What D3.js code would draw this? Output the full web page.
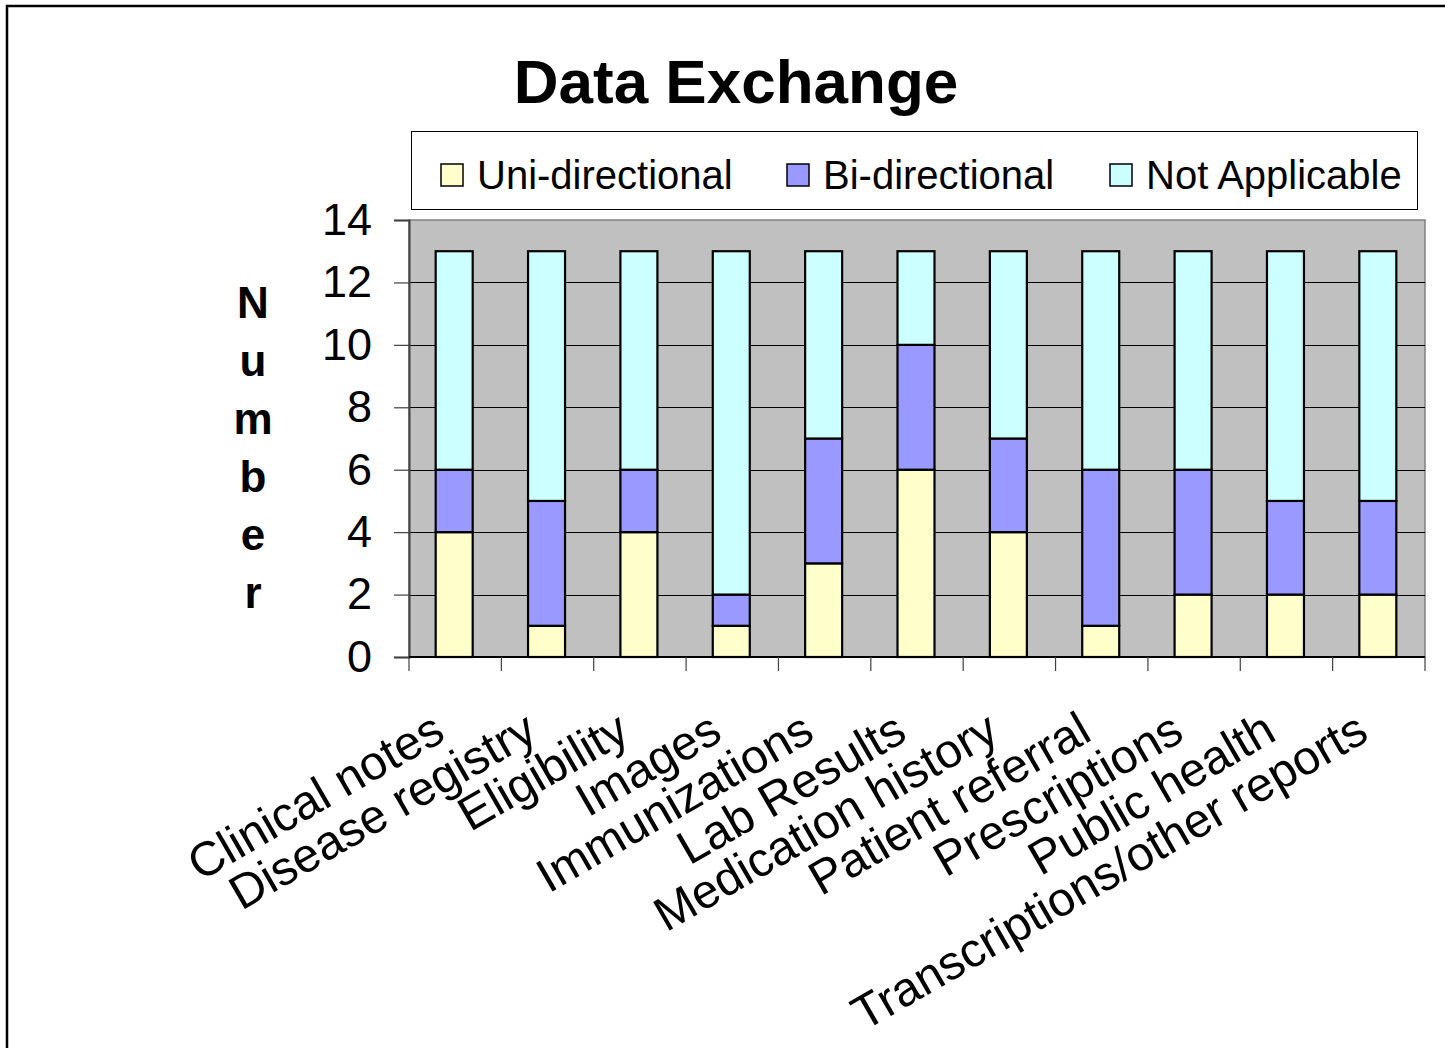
<!DOCTYPE html>
<html>
<head>
<meta charset="utf-8">
<script src="https://cdn.jsdelivr.net/npm/d3@7"></script>
<style>
  html, body { margin: 0; padding: 0; background: #fff; }
  svg { display: block; font-family: Arial, "Liberation Sans", sans-serif; }
</style>
</head>
<body>
<svg id="chart" width="1445" height="1048"></svg>
<script>
// Survey counts of data-exchange types per category
const categories = [
  "Clinical notes", "Disease registry", "Eligibility", "Images", "Immunizations",
  "Lab Results", "Medication history", "Patient referral", "Prescriptions",
  "Public health", "Transcriptions/other reports"
];
const uniDirectional = [4, 1, 4, 1, 3, 6, 4, 1, 2, 2, 2];
const biDirectional  = [2, 4, 2, 1, 4, 4, 3, 5, 4, 3, 3];
const notApplicable  = [7, 8, 7, 11, 6, 3, 6, 7, 7, 8, 8];
const seriesNames = ["Uni-directional", "Bi-directional", "Not Applicable"];
const seriesColors = ["#FFFFCC", "#9999FF", "#CCFFFF"];
const yTicks = [0, 2, 4, 6, 8, 10, 12, 14];
const yTitle = "Number";
const chartTitle = "Data Exchange";

const svg = d3.select("#chart");

// Outer frame
svg.append("rect")
  .attr("x", 7).attr("y", 6).attr("width", 1460).attr("height", 1070)
  .attr("fill", "none").attr("stroke", "#000").attr("stroke-width", 2.5);

const plot = { left: 409, right: 1425, top: 220, bottom: 657 };

const x = d3.scaleBand().domain(categories).range([plot.left, plot.right]).paddingInner(0).paddingOuter(0);
const y = d3.scaleLinear().domain([0, 14]).range([plot.bottom, plot.top]);

// Plot background
svg.append("rect")
  .attr("x", plot.left).attr("y", plot.top)
  .attr("width", plot.right - plot.left).attr("height", plot.bottom - plot.top)
  .attr("fill", "#C0C0C0").attr("stroke", "#808080").attr("stroke-width", 1.5);

// Gridlines
svg.append("g").selectAll("line").data(yTicks.filter(d => d > 0 && d < 14)).join("line")
  .attr("x1", plot.left).attr("x2", plot.right)
  .attr("y1", d => Math.round(y(d)) + 0.5).attr("y2", d => Math.round(y(d)) + 0.5)
  .attr("stroke", "#000").attr("stroke-width", 1);

// Stacked bars
const rows = categories.map((c, i) => ({
  cat: c, "Uni-directional": uniDirectional[i], "Bi-directional": biDirectional[i], "Not Applicable": notApplicable[i]
}));
const stacked = d3.stack().keys(seriesNames)(rows);
const barW = 37;
svg.append("g").selectAll("g").data(stacked).join("g")
  .attr("fill", (d, i) => seriesColors[i])
  .selectAll("rect").data(d => d).join("rect")
  .attr("x", d => x(d.data.cat) + x.bandwidth() / 2 - barW / 2 - 1)
  .attr("width", barW)
  .attr("y", d => y(d[1]))
  .attr("height", d => y(d[0]) - y(d[1]))
  .attr("stroke", "#000").attr("stroke-width", 2.2);

// Y axis
const yAxis = d3.axisLeft(y).tickValues(yTicks).tickSize(15).tickPadding(22);
const gy = svg.append("g").attr("transform", `translate(${plot.left},0)`).call(yAxis);
gy.select(".domain").attr("stroke", "#404040").attr("stroke-width", 2);
gy.selectAll(".tick line").attr("stroke", "#404040").attr("stroke-width", 1.2);
gy.selectAll(".tick text").attr("font-size", 45).attr("fill", "#000").attr("font-family", "Arial, 'Liberation Sans', sans-serif");

// X axis with boundary ticks
svg.append("line")
  .attr("x1", plot.left).attr("x2", plot.right)
  .attr("y1", plot.bottom).attr("y2", plot.bottom)
  .attr("stroke", "#000").attr("stroke-width", 2);
const bounds = categories.map(c => x(c)).concat([plot.right]);
svg.append("g").selectAll("line").data(bounds).join("line")
  .attr("x1", d => d).attr("x2", d => d)
  .attr("y1", plot.bottom).attr("y2", plot.bottom + 14)
  .attr("stroke", "#404040").attr("stroke-width", 1.2);

// Category labels, rotated
svg.append("g").selectAll("text").data(categories).join("text")
  .attr("transform", d => `translate(${x(d) + x.bandwidth() / 2 - 8},${plot.bottom + 82}) rotate(-30)`)
  .attr("text-anchor", "end")
  .attr("font-size", 48)
  .text(d => d);

// Y axis title, letters stacked vertically
svg.append("g").selectAll("text").data(yTitle.split("")).join("text")
  .attr("x", 253).attr("y", (d, i) => 318 + i * 58)
  .attr("text-anchor", "middle")
  .attr("font-size", 44).attr("font-weight", "bold")
  .text(d => d);

// Title
svg.append("text")
  .attr("x", 736).attr("y", 103)
  .attr("text-anchor", "middle")
  .attr("font-size", 62).attr("font-weight", "bold")
  .text(chartTitle);

// Legend
svg.append("rect")
  .attr("x", 411.5).attr("y", 131.5).attr("width", 1006).attr("height", 78)
  .attr("fill", "#fff").attr("stroke", "#000").attr("stroke-width", 1);
const legendX = [441, 787, 1110];
const lg = svg.append("g").selectAll("g").data(seriesNames).join("g")
  .attr("transform", (d, i) => `translate(${legendX[i]},164)`);
lg.append("rect").attr("width", 22).attr("height", 22)
  .attr("fill", (d, i) => seriesColors[i]).attr("stroke", "#000").attr("stroke-width", 1.5);
lg.append("text").attr("x", 36).attr("y", 25).attr("font-size", 40).text(d => d);
</script>
</body>
</html>
